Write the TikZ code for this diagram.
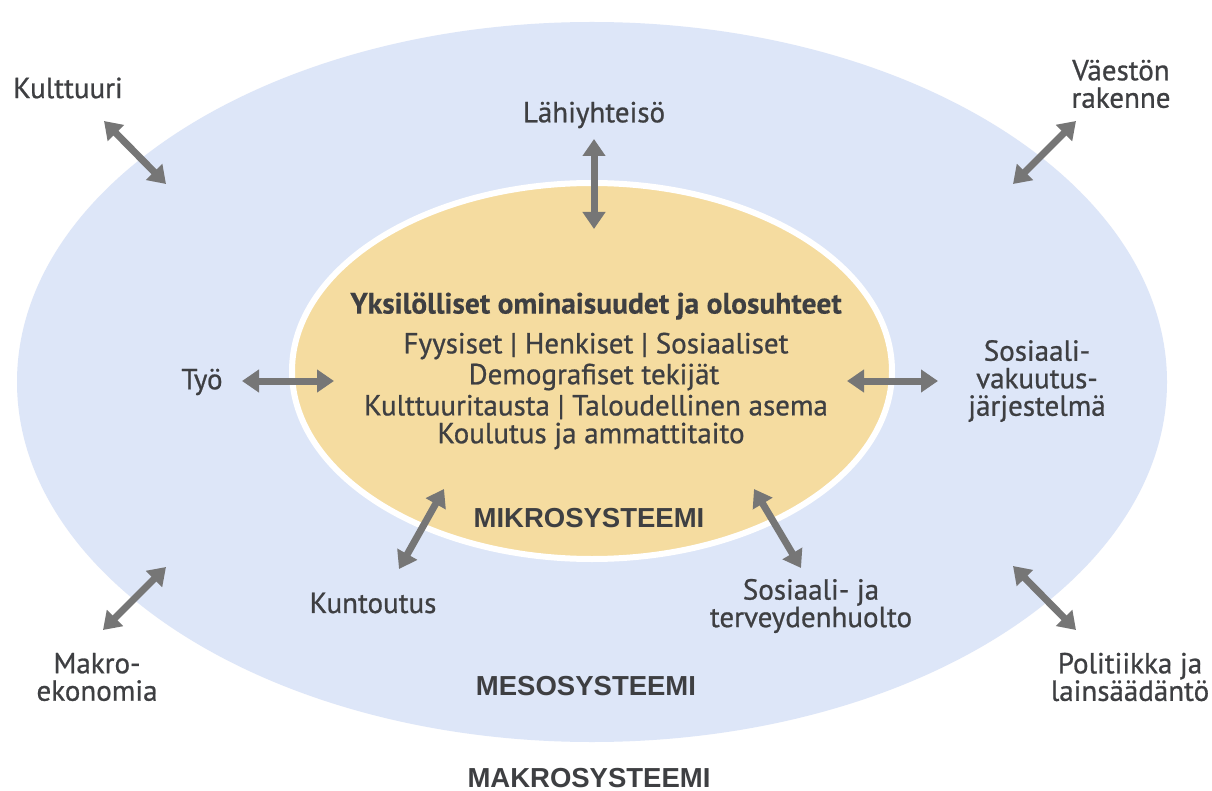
\documentclass[tikz,border=0pt]{standalone}
\usepackage{fontspec}
\setmainfont{PT Sans}[FakeBold=0.8]
\newfontfamily\titlefont{PT Sans}[BoldFeatures={FakeBold=0.3}]
\newfontfamily\capsfont{Liberation Sans}
\usetikzlibrary{arrows.meta}
\definecolor{mesoblue}{HTML}{DDE6F8}
\definecolor{mikroyellow}{HTML}{F5DCA0}
\definecolor{txtgray}{HTML}{3E3F42}
\definecolor{arrgray}{HTML}{767676}
\tikzset{
  lbl/.style={text=txtgray, align=center, inner sep=0pt, font=\fontsize{29}{27.5}\selectfont},
  inner/.style={text=txtgray, align=center, inner sep=0pt, font=\fontsize{29}{28}\selectfont},
  syslbl/.style={text=txtgray, inner sep=0pt, font=\capsfont\bfseries\fontsize{27.5}{28}\selectfont},
  dblarrow/.style={draw=arrgray, line width=7pt, {Triangle[length=17pt,width=22pt]}-{Triangle[length=17pt,width=22pt]}}
}
\begin{document}
\begin{tikzpicture}[x=1pt,y=-1pt]
\useasboundingbox (0,0) rectangle (1212,791);
\fill[white] (0,0) rectangle (1212,791);
% ellipses
\fill[mesoblue] (592,382) ellipse [x radius=575pt, y radius=360pt];
\filldraw[fill=mikroyellow, draw=white, line width=6pt] (592,371) ellipse [x radius=300pt, y radius=188pt];

% central text
\node[inner, font=\titlefont\bfseries\fontsize{29.5}{28}\selectfont] (title) at (596,306) {Yksilölliset ominaisuudet ja olosuhteet};
\node[inner] (l1) at (596,346) {Fyysiset | Henkiset | Sosiaaliset};
\node[inner] (l2) at (594,377) {Demografiset tekijät};
\node[inner] (l3) at (596,407) {Kulttuuritausta | Taloudellinen asema};
\node[inner] (l4) at (591,436) {Koulutus ja ammattitaito};
\node[syslbl] (mikro) at (589,518) {MIKROSYSTEEMI};
\node[syslbl] (meso) at (586,686) {MESOSYSTEEMI};
\node[syslbl] (makro) at (589,778) {MAKROSYSTEEMI};

% outer labels
\node[lbl] (kulttuuri) at (68,88) {Kulttuuri};
\node[lbl] (lahi) at (594,115) {Lähiyhteisö};
\node[lbl] (vaesto) at (1121,84) {Väestön\\rakenne};
\node[lbl] (tyo) at (202,382) {Työ};
\node[lbl] (sosvak) at (1037,381) {Sosiaali-\\vakuutus-\\järjestelmä};
\node[lbl] (kuntoutus) at (373,603) {Kuntoutus};
\node[lbl] (sosterv) at (811,606) {Sosiaali- ja\\terveydenhuolto};
\node[lbl] (makroek) at (97,677) {Makro-\\ekonomia};
\node[lbl] (politiikka) at (1130,677) {Politiikka ja\\lainsäädäntö};

% arrow end points
\coordinate (a1s) at (104,121); \coordinate (a1e) at (166,184);
\coordinate (a2s) at (594,139); \coordinate (a2e) at (594,229);
\coordinate (a3s) at (1076,121); \coordinate (a3e) at (1013,184);
\coordinate (a4s) at (242,381); \coordinate (a4e) at (334,381);
\coordinate (a5s) at (847,381); \coordinate (a5e) at (938,381);
\coordinate (a6s) at (444,489); \coordinate (a6e) at (399,569);
\coordinate (a7s) at (754,489); \coordinate (a7e) at (801,568);
\coordinate (a8s) at (166,567); \coordinate (a8e) at (103,630);
\coordinate (a9s) at (1013,566); \coordinate (a9e) at (1076,630);
\foreach \i in {1,...,9} { \draw[dblarrow] (a\i s) -- (a\i e); }
\end{tikzpicture}
\end{document}
